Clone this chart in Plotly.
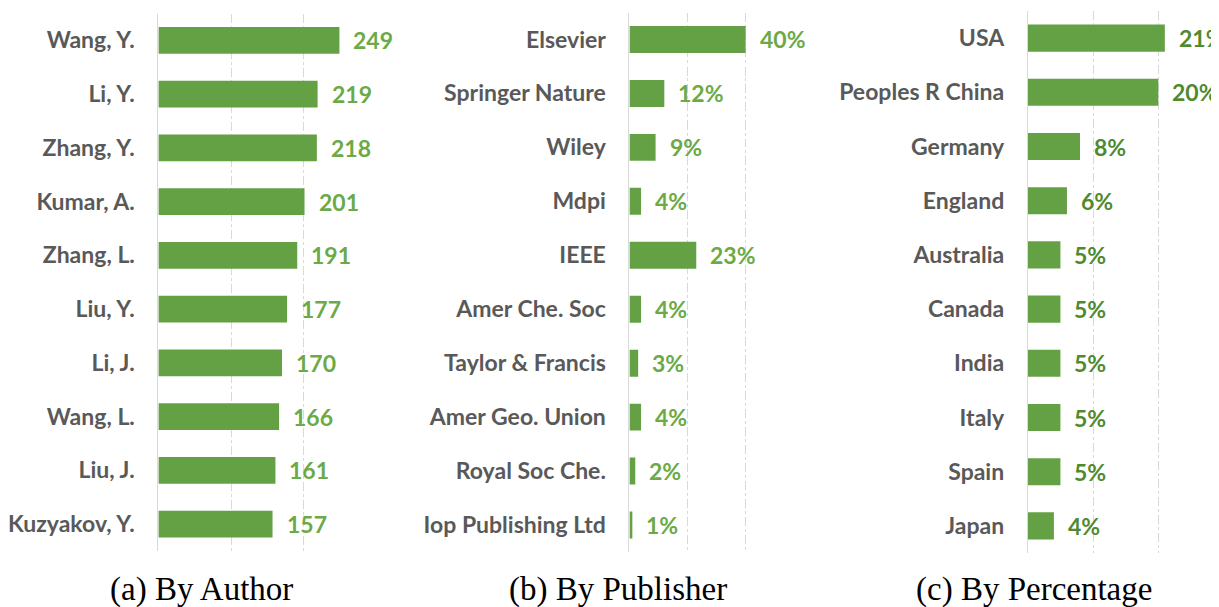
import plotly.graph_objects as go

# ---- data ----
authors = ["Wang, Y.", "Li, Y.", "Zhang, Y.", "Kumar, A.", "Zhang, L.",
           "Liu, Y.", "Li, J.", "Wang, L.", "Liu, J.", "Kuzyakov, Y."]
author_counts = [249, 219, 218, 201, 191, 177, 170, 166, 161, 157]

publishers = ["Elsevier", "Springer Nature", "Wiley", "Mdpi", "IEEE",
              "Amer Che. Soc", "Taylor & Francis", "Amer Geo. Union",
              "Royal Soc Che.", "Iop Publishing Ltd"]
publisher_pct = [40, 12, 9, 4, 23, 4, 3, 4, 2, 1]

countries = ["USA", "Peoples R China", "Germany", "England", "Australia",
             "Canada", "India", "Italy", "Spain", "Japan"]
country_pct = [21, 20, 8, 6, 5, 5, 5, 5, 5, 4]

captions = ["(a) By Author", "(b) By Publisher", "(c) By Percentage"]

# ---- style ----
OFF = 8  # page body margin in the browser
W, H = 1219 - OFF, 607 - OFF
BAR = "#64A044"
LBL = "#6BAA46"
LBL_C = "#4F8A2F"
GRID = "#D9D9D9"
CAT = "#595959"

def px_x(p):
    return (p - OFF) / W

def px_y(p):
    return 1 - (p - OFF) / H

panels = [
    dict(cats=authors, vals=author_counts, fmt="{}", rng=[0, 300], dtick=100,
         xd=[154, 373], yd=[13.5, 551], lc=LBL),
    dict(cats=publishers, vals=publisher_pct, fmt="{}%", rng=[0, 60], dtick=20,
         xd=[627, 802], yd=[12.5, 552], lc=LBL),
    dict(cats=countries, vals=country_pct, fmt="{}%", rng=[0, 29.3], dtick=10,
         xd=[1027, 1219], yd=[11, 553], lc=LBL_C),
]

fig = go.Figure()
annotations = []
for i, p in enumerate(panels):
    n = "" if i == 0 else str(i + 1)
    fig.add_trace(go.Bar(
        x=p["vals"], y=p["cats"], orientation="h",
        marker=dict(color=BAR, line=dict(width=0)),
        width=0.5, xaxis="x" + n, yaxis="y" + n, hoverinfo="skip",
        showlegend=False,
    ))
    fig.update_layout(**{
        "xaxis" + n: dict(
            domain=[px_x(p["xd"][0]), px_x(p["xd"][1])], range=p["rng"],
            anchor="y" + n, showticklabels=False, showgrid=True,
            gridcolor=GRID, griddash="dashdot", gridwidth=1, dtick=p["dtick"],
            tick0=0, zeroline=False, showline=False, fixedrange=True,
        ),
        "yaxis" + n: dict(
            domain=[px_y(p["yd"][1]), px_y(p["yd"][0])], anchor="x" + n,
            type="category", autorange="reversed", showline=True,
            linecolor=GRID, linewidth=1, showgrid=False, ticks="",
            ticklabelstandoff=18,
            tickfont=dict(family="Lato", size=23, color=CAT, weight="bold"),
        ),
    })
    for c, v in zip(p["cats"], p["vals"]):
        annotations.append(dict(
            x=v, y=c, xref="x" + n, yref="y" + n, text=p["fmt"].format(v),
            showarrow=False, xanchor="left", yanchor="middle", xshift=12,
            font=dict(family="Lato", size=23, color=p["lc"], weight="bold"),
        ))

for cx, txt in zip([197, 616, 1033], captions):
    annotations.append(dict(
        x=px_x(cx), y=px_y(589), xref="paper", yref="paper", text=txt,
        showarrow=False, xanchor="center", yanchor="middle",
        font=dict(family="Liberation Serif", size=33, color="black"),
    ))

fig.update_layout(
    width=W, height=H, margin=dict(l=0, r=0, t=0, b=0),
    paper_bgcolor="white", plot_bgcolor="white",
    annotations=annotations, bargap=0.5,
)

fig.write_html("out.html")
